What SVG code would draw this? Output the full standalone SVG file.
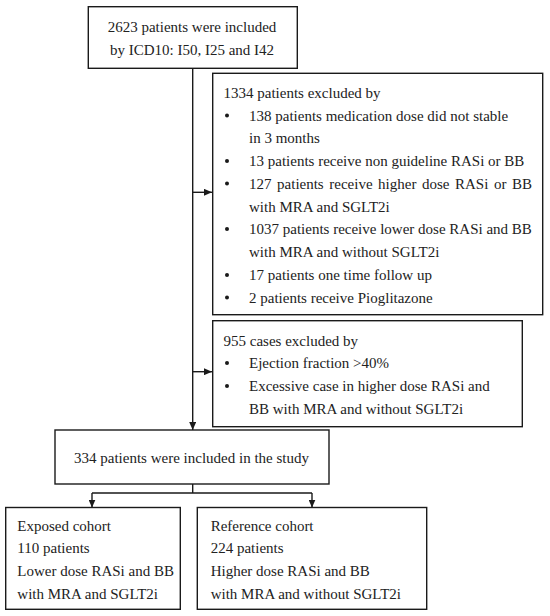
<svg xmlns="http://www.w3.org/2000/svg" width="550" height="616" viewBox="0 0 550 616">
<style>
.box{fill:#ffffff;stroke:#1a1a1a;stroke-width:1.4}
.t{font-family:"Liberation Serif","Times New Roman",serif;font-size:15px;fill:#222222}
.c{text-anchor:middle}
.ln{fill:none;stroke:#1a1a1a;stroke-width:1.4}
.dot{fill:#1a1a1a}
</style>
<defs>
<marker id="ah" viewBox="0 0 8 7" refX="8" refY="3.5" markerWidth="8" markerHeight="7" markerUnits="userSpaceOnUse" orient="auto">
<path d="M0,0 L8,3.5 L0,7 Z" fill="#1a1a1a"/>
</marker>
</defs>
<rect width="550" height="616" fill="#ffffff"/>
<g id="connectors">
<path class="ln" d="M192.7,68.3 V430" marker-end="url(#ah)"/>
<path class="ln" d="M192.7,192.3 H212" marker-end="url(#ah)"/>
<path class="ln" d="M192.7,371.7 H212" marker-end="url(#ah)"/>
<path class="ln" d="M192.7,484 V493 M92,493 H312"/>
<path class="ln" d="M92,493 V507.5" marker-end="url(#ah)"/>
<path class="ln" d="M312,493 V507.5" marker-end="url(#ah)"/>
</g>
<g id="n-start">
<rect class="box" x="88.3" y="6.7" width="209" height="61.6"/>
<text class="t c" x="192" y="32.3">2623 patients were included</text>
<text class="t c" x="192" y="55">by ICD10: I50, I25 and I42</text>
</g>
<g id="n-excl1">
<rect class="box" x="212.7" y="73.3" width="330" height="241.4"/>
<text class="t" x="223.5" y="97.5">1334 patients excluded by</text>
<circle class="dot" cx="227" cy="115.5" r="2"/>
<text class="t" x="249" y="120.5">138 patients medication dose did not stable</text>
<text class="t" x="249" y="143">in 3 months</text>
<circle class="dot" cx="227" cy="161" r="2"/>
<text class="t" x="249" y="166">13 patients receive non guideline RASi or BB</text>
<circle class="dot" cx="227" cy="183.5" r="2"/>
<text class="t" x="249" y="188.5" word-spacing="1.8">127 patients receive higher dose RASi or BB</text>
<text class="t" x="249" y="211.5">with MRA and SGLT2i</text>
<circle class="dot" cx="227" cy="229" r="2"/>
<text class="t" x="249" y="234">1037 patients receive lower dose RASi and BB</text>
<text class="t" x="249" y="257">with MRA and without SGLT2i</text>
<circle class="dot" cx="227" cy="275" r="2"/>
<text class="t" x="249" y="280">17 patients one time follow up</text>
<circle class="dot" cx="227" cy="297.5" r="2"/>
<text class="t" x="249" y="302.5">2 patients receive Pioglitazone</text>
</g>
<g id="n-excl2">
<rect class="box" x="212.7" y="320.7" width="309.6" height="106"/>
<text class="t" x="223.5" y="345.5">955 cases excluded by</text>
<circle class="dot" cx="227" cy="363" r="2"/>
<text class="t" x="249" y="368">Ejection fraction &gt;40%</text>
<circle class="dot" cx="227" cy="386" r="2"/>
<text class="t" x="249" y="391">Excessive case in higher dose RASi and</text>
<text class="t" x="249" y="414">BB with MRA and without SGLT2i</text>
</g>
<g id="n-study">
<rect class="box" x="55" y="430" width="274" height="54"/>
<text class="t c" x="191.5" y="463">334 patients were included in the study</text>
</g>
<g id="n-exposed">
<rect class="box" x="5.7" y="507.5" width="174.6" height="101.8"/>
<text class="t" x="17.3" y="530.7">Exposed cohort</text>
<text class="t" x="17.3" y="553.3">110 patients</text>
<text class="t" x="17.3" y="575.9">Lower dose RASi and BB</text>
<text class="t" x="17.3" y="598.5">with MRA and SGLT2i</text>
</g>
<g id="n-reference">
<rect class="box" x="197.3" y="507.5" width="229.4" height="101.8"/>
<text class="t" x="210.7" y="530.7">Reference cohort</text>
<text class="t" x="210.7" y="553.3">224 patients</text>
<text class="t" x="210.7" y="575.9">Higher dose RASi and BB</text>
<text class="t" x="210.7" y="598.5">with MRA and without SGLT2i</text>
</g>
</svg>
